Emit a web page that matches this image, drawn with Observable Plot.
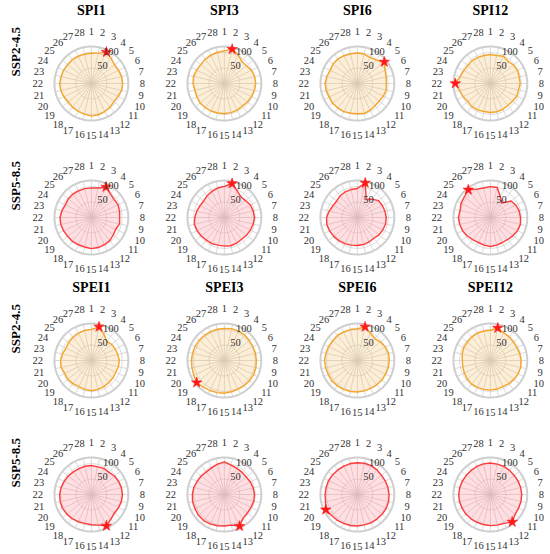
<!DOCTYPE html>
<html><head><meta charset="utf-8">
<script src="https://cdn.jsdelivr.net/npm/d3@7"></script>
<script src="https://cdn.jsdelivr.net/npm/@observablehq/plot@0.6"></script>
<style>
body{margin:0;background:#fff}
#chart{width:550px;height:554px}
#chart svg{display:block}
</style>
</head><body><div id="chart"></div>
<script>
// ---- data ----
const stations = d3.range(1, 29).map(String);
const spiIndices = ["SPI1", "SPI3", "SPI6", "SPI12"];
const speiIndices = ["SPEI1", "SPEI3", "SPEI6", "SPEI12"];
const scenarios = ["SSP2-4.5", "SSP5-8.5"];
const radialTicks = [50, 100];
const radialMax = 120;

const spi1_245  = [98,101,113,104,96,98,101,102,101,96,94,98,101,104,106,102,100,98,96,99,102,103,101,100,98,99,98,98];
const spi3_245  = [106,114,104,91,92,98,101,102,100,98,96,94,96,97,98,98,99,100,101,99,98,102,103,100,98,100,102,104];
const spi6_245  = [99,98,94,98,112,100,96,94,96,94,91,92,96,100,98,99,101,102,103,102,104,105,102,98,101,102,100,99];
const spi12_245 = [94,93,98,92,96,98,96,97,94,95,92,91,93,94,94,93,95,96,94,98,103,114,101,96,94,95,94,93];
const spi1_585  = [96,98,110,99,94,96,94,92,94,88,91,96,98,100,101,98,98,99,98,100,102,102,98,94,96,97,96,96];
const spi3_585  = [101,113,96,86,88,94,96,98,96,94,92,90,92,94,93,92,94,94,96,98,100,96,92,88,86,90,94,98];
const spi6_585  = [94,115,66,76,88,90,92,94,94,92,90,86,88,90,91,92,94,96,98,100,102,100,94,88,86,90,92,93];
const spi12_585 = [100,100,75,60,86,92,96,98,100,98,94,91,90,92,94,92,90,92,96,100,102,104,101,106,108,115,102,98];

const spei1_245  = [101,112,94,80,84,86,88,91,90,88,90,91,94,96,98,96,94,96,98,96,101,100,96,92,94,96,98,100];
const spei3_245  = [104,106,106,106,104,103,104,104,105,106,105,104,103,104,106,107,108,110,115,110,108,107,106,106,105,104,104,104];
const spei6_245  = [103,112,98,91,96,101,104,104,103,102,102,101,100,101,102,103,104,105,106,105,106,107,105,104,103,104,103,103];
const spei12_245 = [98,108,100,98,96,96,98,100,101,100,98,96,94,95,96,96,97,98,96,94,92,91,94,96,96,97,98,98];
const spei1_585  = [94,92,94,92,96,98,100,101,100,98,96,102,113,102,98,96,98,100,102,104,104,103,101,98,96,94,93,94];
const spei3_585  = [106,98,94,92,91,94,96,98,98,96,96,98,114,102,102,104,106,108,108,106,106,104,102,98,96,94,96,101];
const spei6_585  = [103,104,104,102,100,101,102,103,104,104,103,102,102,101,102,103,104,106,108,114,106,105,104,104,103,102,102,103];
const spei12_585 = [102,101,101,100,99,100,101,102,102,102,103,114,104,102,101,100,100,101,102,102,103,103,102,101,100,100,101,102];

const spiSeries = {
  "SSP2-4.5": [spi1_245, spi3_245, spi6_245, spi12_245],
  "SSP5-8.5": [spi1_585, spi3_585, spi6_585, spi12_585]
};
const speiSeries = {
  "SSP2-4.5": [spei1_245, spei3_245, spei6_245, spei12_245],
  "SSP5-8.5": [spei1_585, spei3_585, spei6_585, spei12_585]
};

// ---- layout / style ----
const FONT = "'Liberation Serif', 'Times New Roman', serif";
const R_PX = 37;               // outer circle radius in px
const K = radialMax / R_PX;    // data units per px
const W = 550, H = 277;
const ML = 17, MT = 9;
const cellW = (W - ML) / 4, cellH = (H - MT) / 2;
const CX = 73, CY = 74;        // radar centre inside a cell (px)
const LABEL_R0 = 48.5;         // label anchor distance (px)
const LABEL_FS = 10.5;
const styles = {
  "SSP2-4.5": {stroke: "#f5a52a", fill: "#f6b24d", op: 0.22},
  "SSP5-8.5": {stroke: "#ff3b3b", fill: "#ff7b84", op: 0.24}
};

const N = stations.length;
const ang = i => i * 2 * Math.PI / N;
const px = (r, a) => r * Math.sin(a);
const py = (r, a) => r * Math.cos(a);

function circle(r) {
  return d3.range(0, 361, 3).map(deg => ({r, x: px(r, deg * Math.PI / 180), y: py(r, deg * Math.PI / 180)}));
}

function radarPlot(names, series) {
  const rows = [];
  for (const sc of scenarios) {
    series[sc].forEach((vals, k) => {
      vals.forEach((v, i) => rows.push({idx: names[k], sc, st: stations[i], v, x: px(v, ang(i)), y: py(v, ang(i))}));
    });
  }
  const peaks = d3.groups(rows, d => d.idx + "|" + d.sc).map(([, g]) => d3.greatest(g, d => d.v));
  const spokes = stations.map((s, i) => ({x: px(radialMax, ang(i)), y: py(radialMax, ang(i))}));
  // label centre = anchor on a circle + half the text box pushed outwards
  const labels = stations.map((s, i) => {
    const a = ang(i), w = s.length * LABEL_FS * 0.5, h = LABEL_FS * 0.72;
    return {s, x: (px(LABEL_R0, a) + Math.sin(a) * w / 2) * K, y: (py(LABEL_R0, a) + Math.cos(a) * h / 2) * K};
  });
  const tickA = 22 * Math.PI / 180;
  const ticks = radialTicks.map(t => ({t, x: px(t, tickA), y: py(t, tickA)}));
  const grid = radialTicks.flatMap(circle);
  const polyMarks = scenarios.map(sc => Plot.line(rows.filter(d => d.sc === sc), {
    x: "x", y: "y", fx: "idx", fy: "sc", z: "idx", curve: "linear-closed",
    stroke: styles[sc].stroke, strokeWidth: 1.4, fill: styles[sc].fill, fillOpacity: styles[sc].op
  }));
  return Plot.plot({
    width: W, height: H,
    marginLeft: ML, marginRight: 0, marginTop: MT, marginBottom: 0,
    style: {fontFamily: FONT, background: "#fff", overflow: "visible"},
    fx: {domain: names, padding: 0, axis: null},
    fy: {domain: scenarios, padding: 0, axis: null},
    x: {domain: [-CX * K, (cellW - CX) * K], axis: null},
    y: {domain: [-(cellH - CY) * K, CY * K], axis: null},
    marks: [
      Plot.line(grid, {x: "x", y: "y", z: "r", stroke: "#d2d2d2", strokeWidth: 0.8}),
      Plot.link(spokes, {x1: () => 0, y1: () => 0, x2: "x", y2: "y", stroke: "#d2d2d2", strokeWidth: 0.8}),
      Plot.line(circle(radialMax), {x: "x", y: "y", stroke: "#cfcfcf", strokeWidth: 2}),
      ...polyMarks,
      Plot.dot(peaks, {x: "x", y: "y", fx: "idx", fy: "sc", symbol: "star", r: 3.3, fill: "#ff1a1a", stroke: "#ff1a1a", strokeWidth: 0.6}),
      Plot.text(labels, {x: "x", y: "y", text: "s", fontSize: LABEL_FS, fontFamily: FONT, fill: "#333"}),
      Plot.text(ticks, {x: "x", y: "y", text: "t", textAnchor: "start", lineAnchor: "bottom", fontSize: 10.5, fontFamily: FONT, fill: "#333"}),
      Plot.text(names, {fx: d => d, fy: () => scenarios[0], x: () => 0, frameAnchor: "top", dy: 1, lineAnchor: "middle",
        text: d => d, fontSize: 14, fontWeight: "bold", fontFamily: FONT, fill: "#000"}),
      Plot.text(scenarios, {fy: d => d, fx: () => names[0], frameAnchor: "left", dx: -3, rotate: -90,
        text: d => d, fontSize: 13, fontWeight: "bold", fontFamily: FONT, fill: "#000"})
    ]
  });
}

const chart = document.getElementById("chart");
chart.append(radarPlot(spiIndices, spiSeries), radarPlot(speiIndices, speiSeries));
</script>
</body></html>
